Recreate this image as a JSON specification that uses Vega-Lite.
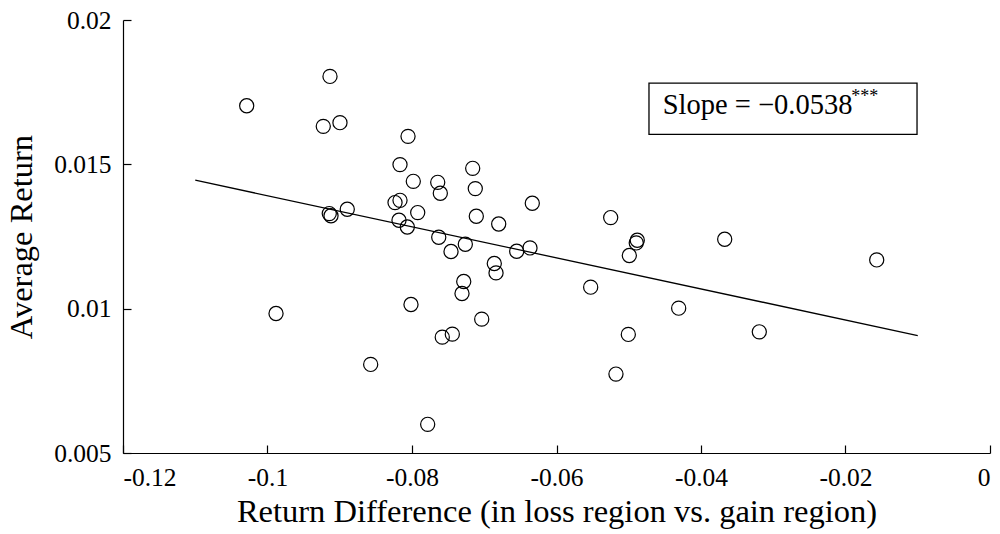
{
  "$schema": "https://vega.github.io/schema/vega-lite/v6.json",
  "autosize": {"type": "none"},
  "width": 867,
  "height": 433,
  "padding": {"left": 123, "top": 20, "right": 10, "bottom": 81},
  "background": "white",
  "config": {
    "view": {"stroke": null},
    "font": "Liberation Serif",
    "axis": {
      "grid": false,
      "domainColor": "black",
      "domainWidth": 1.2,
      "tickColor": "black",
      "tickWidth": 1.2,
      "tickSize": -8,
      "labelColor": "black",
      "labelFont": "Liberation Serif",
      "labelFontSize": 25.5,
      "titleColor": "black",
      "titleFont": "Liberation Serif",
      "titleFontSize": 32.5,
      "titleFontWeight": "normal"
    }
  },
  "datasets": {
    "portfolios": [
      {"diff": -0.10288, "ret": 0.017031},
      {"diff": -0.09135, "ret": 0.018045},
      {"diff": -0.09228, "ret": 0.016315},
      {"diff": -0.08997, "ret": 0.016443},
      {"diff": -0.09882, "ret": 0.009834},
      {"diff": -0.08896, "ret": 0.013443},
      {"diff": -0.09145, "ret": 0.013294},
      {"diff": -0.09121, "ret": 0.013218},
      {"diff": -0.08055, "ret": 0.015969},
      {"diff": -0.08166, "ret": 0.014990},
      {"diff": -0.07982, "ret": 0.014412},
      {"diff": -0.07644, "ret": 0.014377},
      {"diff": -0.07608, "ret": 0.013997},
      {"diff": -0.07160, "ret": 0.014862},
      {"diff": -0.07124, "ret": 0.014159},
      {"diff": -0.08235, "ret": 0.013675},
      {"diff": -0.08166, "ret": 0.013754},
      {"diff": -0.07921, "ret": 0.013329},
      {"diff": -0.07110, "ret": 0.013201},
      {"diff": -0.06335, "ret": 0.013651},
      {"diff": -0.08180, "ret": 0.013062},
      {"diff": -0.08065, "ret": 0.012830},
      {"diff": -0.06800, "ret": 0.012934},
      {"diff": -0.07630, "ret": 0.012474},
      {"diff": -0.07460, "ret": 0.011979},
      {"diff": -0.07262, "ret": 0.012232},
      {"diff": -0.06551, "ret": 0.011990},
      {"diff": -0.06367, "ret": 0.012104},
      {"diff": -0.06861, "ret": 0.011564},
      {"diff": -0.06837, "ret": 0.011239},
      {"diff": -0.07284, "ret": 0.010941},
      {"diff": -0.07308, "ret": 0.010526},
      {"diff": -0.08014, "ret": 0.010145},
      {"diff": -0.07035, "ret": 0.009637},
      {"diff": -0.07581, "ret": 0.009014},
      {"diff": -0.07442, "ret": 0.009118},
      {"diff": -0.07783, "ret": 0.005993},
      {"diff": -0.08572, "ret": 0.008069},
      {"diff": -0.05250, "ret": 0.013156},
      {"diff": -0.04882, "ret": 0.012370},
      {"diff": -0.04896, "ret": 0.012277},
      {"diff": -0.04992, "ret": 0.011841},
      {"diff": -0.03672, "ret": 0.012405},
      {"diff": -0.05527, "ret": 0.010744},
      {"diff": -0.04309, "ret": 0.010017},
      {"diff": -0.05006, "ret": 0.009107},
      {"diff": -0.03193, "ret": 0.009197},
      {"diff": -0.05177, "ret": 0.007734},
      {"diff": -0.01568, "ret": 0.011689}
    ],
    "fit": [
      {"diff": -0.11, "ret": 0.01445},
      {"diff": -0.01, "ret": 0.00907}
    ],
    "note": [
      {"x0": -0.0472, "x1": -0.0101, "y0": 0.01604, "y1": 0.01781,
       "tx": -0.0453, "ty": 0.01676, "label": "Slope = −0.0538",
       "sx": -0.0192, "sy": 0.01716, "stars": "***"}
    ]
  },
  "layer": [
    {
      "data": {"name": "portfolios"},
      "mark": {"type": "point", "shape": "circle", "filled": false, "stroke": "black", "strokeWidth": 1.2, "size": 200, "opacity": 1},
      "encoding": {
        "x": {
          "field": "diff", "type": "quantitative",
          "scale": {"domain": [-0.12, 0], "nice": false, "zero": false},
          "axis": {
            "values": [-0.12, -0.1, -0.08, -0.06, -0.04, -0.02, 0],
            "labelExpr": "'' + datum.value",
            "labelPadding": 20,
            "title": "Return Difference (in loss region vs. gain region)",
            "titlePadding": 5
          }
        },
        "y": {
          "field": "ret", "type": "quantitative",
          "scale": {"domain": [0.005, 0.02], "nice": false, "zero": false},
          "axis": {
            "values": [0.005, 0.01, 0.015, 0.02],
            "labelExpr": "'' + datum.value",
            "labelPadding": 20,
            "title": "Average Return",
            "titlePadding": 15
          }
        }
      }
    },
    {
      "data": {"name": "fit"},
      "mark": {"type": "line", "color": "black", "strokeWidth": 1.3},
      "encoding": {
        "x": {"field": "diff", "type": "quantitative"},
        "y": {"field": "ret", "type": "quantitative"}
      }
    },
    {
      "data": {"name": "note"},
      "mark": {"type": "rect", "fill": "white", "stroke": "black", "strokeWidth": 1.3},
      "encoding": {
        "x": {"field": "x0", "type": "quantitative"},
        "x2": {"field": "x1"},
        "y": {"field": "y0", "type": "quantitative"},
        "y2": {"field": "y1"}
      }
    },
    {
      "data": {"name": "note"},
      "mark": {"type": "text", "align": "left", "baseline": "alphabetic", "fontSize": 28.5, "font": "Liberation Serif", "color": "black"},
      "encoding": {
        "x": {"field": "tx", "type": "quantitative"},
        "y": {"field": "ty", "type": "quantitative"},
        "text": {"field": "label"}
      }
    },
    {
      "data": {"name": "note"},
      "mark": {"type": "text", "align": "left", "baseline": "alphabetic", "fontSize": 18, "font": "Liberation Serif", "color": "black"},
      "encoding": {
        "x": {"field": "sx", "type": "quantitative"},
        "y": {"field": "sy", "type": "quantitative"},
        "text": {"field": "stars"}
      }
    }
  ]
}
